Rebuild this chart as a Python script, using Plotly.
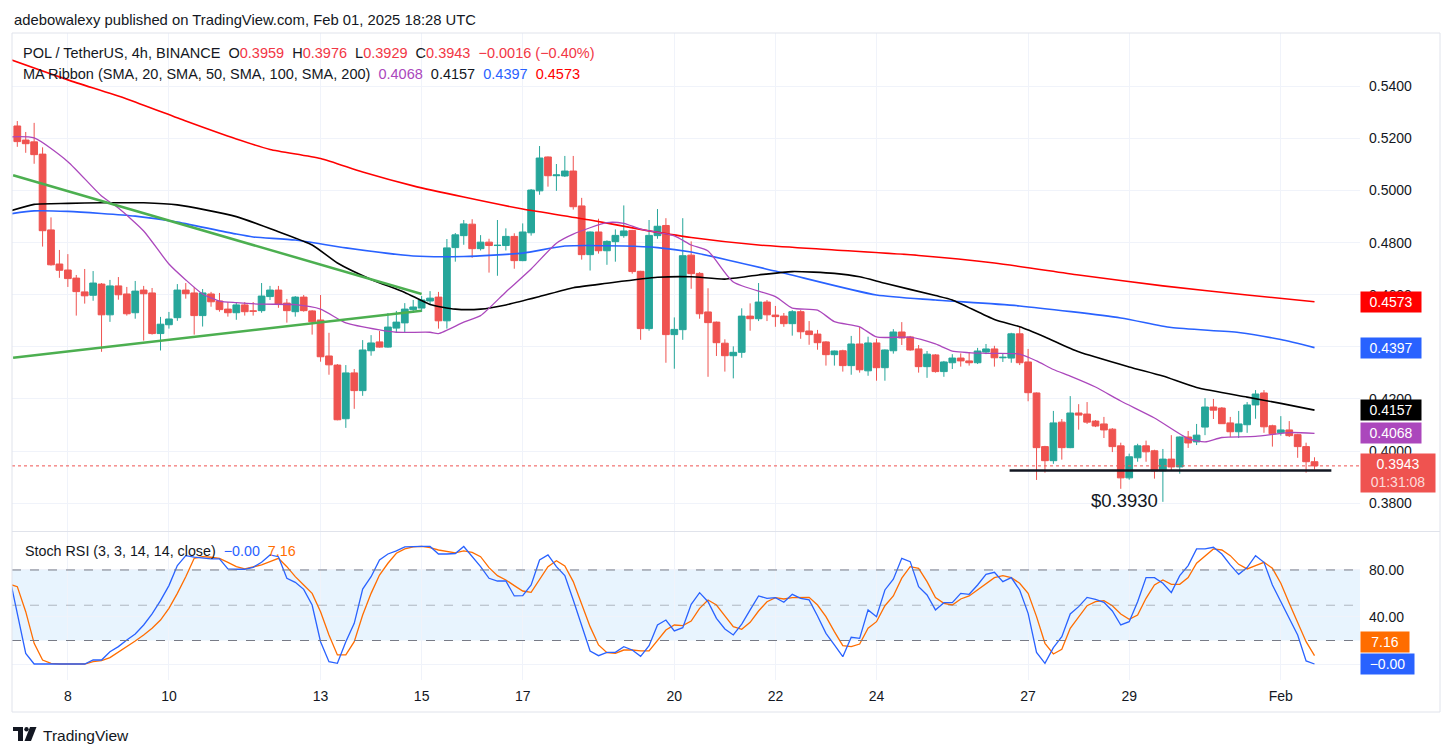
import pandas as pd
import plotly.graph_objects as go

# ---------------- data ----------------
BASE_TIME = pd.Timestamp("2025-01-07 00:00")   # first visible 4h candle
BAR_HOURS = 4

open_ = [0.5248,0.5194,0.5187,0.5140,0.4849,0.4718,0.4695,0.4664,0.4611,0.4598,
0.4641,0.4523,0.4634,0.4603,0.4531,0.4618,0.4607,0.4451,0.4485,0.4512,
0.4618,0.4607,0.4520,0.4603,0.4576,0.4545,0.4531,0.4561,0.4538,0.4539,
0.4593,0.4618,0.4568,0.4535,0.4591,0.4538,0.4503,0.4365,0.4330,0.4124,
0.4300,0.4232,0.4385,0.4419,0.4399,0.4472,0.4492,0.4543,0.4549,0.4576,
0.4591,0.4500,0.4781,0.4827,0.4871,0.4777,0.4802,0.4789,0.4789,0.4824,
0.4731,0.4838,0.4999,0.5129,0.5057,0.5056,0.5075,0.4941,0.4754,0.4841,
0.4769,0.4804,0.4827,0.4847,0.4690,0.4470,0.4827,0.4866,0.4447,0.4466,
0.4752,0.4682,0.4534,0.4495,0.4414,0.4366,0.4379,0.4518,0.4508,0.4572,
0.4522,0.4518,0.4489,0.4535,0.4461,0.4449,0.4419,0.4370,0.4385,0.4328,
0.4411,0.4308,0.4415,0.4320,0.4385,0.4457,0.4438,0.4392,0.4324,0.4369,
0.4305,0.4339,0.4357,0.4346,0.4339,0.4380,0.4392,0.4358,0.4357,0.4450,
0.4342,0.4223,0.4017,0.3963,0.4111,0.4013,0.4146,0.4142,0.4115,0.4104,
0.4084,0.4020,0.3897,0.3974,0.4020,0.4001,0.3924,0.3969,0.3939,0.4054,
0.4035,0.4092,0.4169,0.4165,0.4108,0.4074,0.4101,0.4177,0.4223,0.4097,
0.4070,0.4081,0.4063,0.4017,0.3959]

high_ = [0.5267,0.5225,0.5260,0.5166,0.4897,0.4772,0.4756,0.4676,0.4699,0.4691,
0.4645,0.4657,0.4668,0.4630,0.4653,0.4634,0.4626,0.4515,0.4534,0.4641,
0.4645,0.4630,0.4622,0.4611,0.4607,0.4572,0.4572,0.4572,0.4572,0.4645,
0.4634,0.4634,0.4584,0.4595,0.4599,0.4541,0.4599,0.4454,0.4334,0.4330,
0.4315,0.4426,0.4445,0.4461,0.4530,0.4538,0.4568,0.4580,0.4595,0.4614,
0.4611,0.4814,0.4837,0.4887,0.4890,0.4829,0.4815,0.4887,0.4855,0.4836,
0.4874,0.5006,0.5171,0.5131,0.5102,0.5133,0.5133,0.4972,0.4843,0.4892,
0.4809,0.4851,0.4943,0.4849,0.4692,0.4887,0.4929,0.4894,0.4513,0.4894,
0.4805,0.4687,0.4625,0.4497,0.4429,0.4402,0.4548,0.4567,0.4645,0.4580,
0.4557,0.4530,0.4541,0.4541,0.4499,0.4465,0.4422,0.4386,0.4389,0.4442,
0.4476,0.4439,0.4431,0.4390,0.4468,0.4495,0.4442,0.4407,0.4384,0.4372,
0.4346,0.4372,0.4375,0.4380,0.4396,0.4411,0.4404,0.4375,0.4454,0.4477,
0.4392,0.4225,0.4020,0.4154,0.4123,0.4211,0.4180,0.4188,0.4119,0.4131,
0.4088,0.4032,0.3990,0.4028,0.4040,0.4005,0.4008,0.4061,0.4056,0.4077,
0.4104,0.4203,0.4200,0.4169,0.4131,0.4154,0.4188,0.4234,0.4234,0.4101,
0.4134,0.4115,0.4066,0.4032,0.3976]

low_ = [0.5168,0.5145,0.5103,0.4785,0.4712,0.4665,0.4630,0.4520,0.4566,0.4577,
0.4381,0.4496,0.4581,0.4520,0.4508,0.4424,0.4447,0.4386,0.4470,0.4500,
0.4585,0.4447,0.4478,0.4554,0.4535,0.4516,0.4504,0.4520,0.4520,0.4531,
0.4580,0.4550,0.4493,0.4516,0.4535,0.4447,0.4343,0.4293,0.4118,0.4089,
0.4162,0.4212,0.4366,0.4397,0.4397,0.4457,0.4457,0.4530,0.4534,0.4564,
0.4470,0.4470,0.4727,0.4792,0.4742,0.4770,0.4685,0.4673,0.4770,0.4700,
0.4729,0.4827,0.4984,0.5015,0.4999,0.5052,0.4927,0.4735,0.4693,0.4758,
0.4715,0.4727,0.4819,0.4681,0.4427,0.4462,0.4815,0.4339,0.4316,0.4427,
0.4623,0.4508,0.4285,0.4365,0.4305,0.4279,0.4358,0.4462,0.4499,0.4499,
0.4477,0.4477,0.4443,0.4431,0.4408,0.4389,0.4328,0.4328,0.4305,0.4293,
0.4301,0.4289,0.4270,0.4270,0.4374,0.4407,0.4385,0.4301,0.4281,0.4301,
0.4285,0.4315,0.4324,0.4328,0.4334,0.4372,0.4324,0.4342,0.4339,0.4330,
0.4191,0.3889,0.3917,0.3951,0.3967,0.4011,0.4082,0.4104,0.4092,0.4050,
0.3996,0.3855,0.3890,0.3959,0.3959,0.3894,0.3805,0.3927,0.3913,0.4012,
0.4023,0.4061,0.4123,0.4104,0.4054,0.4050,0.4070,0.4124,0.4070,0.4017,
0.4059,0.4054,0.3974,0.3917,0.3929]

close_ = [0.5188,0.5180,0.5138,0.4846,0.4715,0.4694,0.4662,0.4612,0.4596,0.4645,
0.4523,0.4634,0.4600,0.4527,0.4614,0.4604,0.4451,0.4487,0.4507,0.4618,
0.4604,0.4520,0.4607,0.4573,0.4543,0.4531,0.4561,0.4535,0.4537,0.4595,
0.4618,0.4564,0.4539,0.4591,0.4539,0.4496,0.4362,0.4331,0.4120,0.4300,
0.4232,0.4388,0.4415,0.4399,0.4476,0.4495,0.4545,0.4553,0.4580,0.4587,
0.4500,0.4780,0.4830,0.4872,0.4777,0.4802,0.4789,0.4790,0.4824,0.4731,
0.4841,0.5002,0.5125,0.5057,0.5060,0.5075,0.4938,0.4754,0.4841,0.4769,
0.4805,0.4828,0.4845,0.4689,0.4470,0.4828,0.4863,0.4447,0.4467,0.4750,
0.4681,0.4527,0.4493,0.4416,0.4366,0.4379,0.4518,0.4508,0.4572,0.4523,
0.4516,0.4489,0.4535,0.4458,0.4447,0.4416,0.4370,0.4384,0.4328,0.4411,
0.4312,0.4415,0.4320,0.4388,0.4457,0.4434,0.4388,0.4324,0.4372,0.4305,
0.4342,0.4357,0.4346,0.4339,0.4384,0.4392,0.4358,0.4360,0.4450,0.4339,
0.4224,0.4013,0.3963,0.4108,0.4013,0.4146,0.4138,0.4111,0.4096,0.4081,
0.4017,0.3897,0.3978,0.4020,0.3997,0.3924,0.3969,0.3939,0.4054,0.4031,
0.4061,0.4169,0.4157,0.4105,0.4074,0.4104,0.4177,0.4219,0.4093,0.4066,
0.4081,0.4059,0.4017,0.3959,0.3943]

sma20_idx = [-1,2,6,10,12,15,18,20,22,24,26,29,33,36,39,43,45,49,50,53,
             55,58,61,64,66,70,72,74,78,80,82,85,90,92,95,97,100,102,106,109,
             111,115,119,121,123,125,128,131,135,139,141,143,147,151,154]
sma20_val = [0.5206,0.5202,0.5111,0.4979,0.4933,0.4845,0.4718,0.4657,0.4603,0.4576,
             0.4570,0.4564,0.4562,0.4545,0.4492,0.4465,0.4456,0.4456,0.4451,0.4495,
             0.4520,0.4611,0.4699,0.4798,0.4833,0.4877,0.4874,0.4852,0.4826,0.4791,
             0.4768,0.4649,0.4593,0.4549,0.4541,0.4497,0.4477,0.4438,0.4437,0.4411,
             0.4384,0.4375,0.4372,0.4346,0.4313,0.4288,0.4246,0.4192,0.4127,0.4048,
             0.4035,0.4052,0.4056,0.4071,0.4068]
sma50_idx = [-1,2,6,10,15,19,26,31,35,38,42,46,49,52,55,58,62,66,70,76,
             80,84,88,92,97,100,103,109,111,116,119,122,126,132,136,140,146,150,154]
sma50_val = [0.4920,0.4947,0.4951,0.4953,0.4953,0.4945,0.4900,0.4842,0.4791,0.4722,
             0.4659,0.4609,0.4563,0.4545,0.4545,0.4561,0.4593,0.4627,0.4644,0.4667,
             0.4669,0.4660,0.4676,0.4689,0.4682,0.4669,0.4644,0.4597,0.4580,0.4505,
             0.4477,0.4438,0.4381,0.4323,0.4288,0.4244,0.4207,0.4183,0.4157]
sma100_idx = [-1,2,6,14,19,26,28,33,39,47,53,60,65,72,76,80,90,102,109,119,
              131,137,145,150,154]
sma100_val = [0.4910,0.4922,0.4920,0.4902,0.4879,0.4833,0.4822,0.4810,0.4780,0.4749,
              0.4747,0.4760,0.4787,0.4787,0.4781,0.4764,0.4691,0.4599,0.4580,0.4557,
              0.4511,0.4474,0.4455,0.4428,0.4397]
sma200_idx = [-1,6,13,20,26,30,36,41,47,53,60,68,74,80,88,97,107,116,126,136,146,154]
sma200_val = [0.5505,0.5425,0.5352,0.5267,0.5198,0.5158,0.5123,0.5071,0.5018,0.4975,
              0.4929,0.4887,0.4851,0.4820,0.4791,0.4772,0.4751,0.4722,0.4676,0.4634,
              0.4599,0.4573]

# hand-drawn trend lines and support level
trend_down_idx = [-0.5, 48.0]
trend_down_val = [0.5059, 0.4603]
trend_up_idx = [-0.5, 48.0]
trend_up_val = [0.4358, 0.4539]
support_idx = [117.8, 156.0]
support_val = [0.3925, 0.3925]
support_label = "$0.3930"

# Stoch RSI (3, 3, 14, 14) values, starting at bar index -1
stoch_first_idx = -1
stoch_k = [77,43,9,0,0,0,0,0,0,0,
3.4,3.4,10.5,14.8,20.4,25.5,33.2,42.6,53.9,66.7,
83.7,92.2,91,90.2,89.4,89.4,80.9,80.6,80.6,82.3,
86.5,92.8,91.3,72.9,69.5,63.5,50.2,19,2,0.6,
19,34.6,63.8,74.3,88.5,93.6,96.2,99.6,100,100,
100,93.6,93.6,94,100,91.3,82.8,72.9,70.6,70.6,
57.9,58.2,67.2,88.5,92.8,82.8,75.2,54.5,31.8,11.1,
7.1,9.9,9.9,14.8,11.9,6.5,15.6,33.2,37.4,28.1,
30.9,50.8,60.7,53,38.9,29.8,24.7,34,46,57.9,
55.9,56.5,52.5,59.3,55.9,54.5,40.9,26.1,16.2,6.2,
22.7,21.8,46,40.3,63,72.1,89.9,87.1,65.8,58.7,
46,52.2,52.2,60.1,59.3,67.2,76.3,78,70.1,73.5,
63,43.1,9.9,0.6,13.9,23.3,42.6,48.8,56.7,55,
52.5,45.1,33.2,36,53,73.5,73.5,68.7,60.7,75.2,
83.7,97.9,97.9,99.3,93.6,84.3,76.3,82,92.2,86.5,
67.2,53,38.9,24.7,2.6,0]
stoch_d = [68,65.8,44.5,17.6,3.4,0.6,0,0,0,0,
2,2.8,5.4,9.9,14.8,19.6,24.7,30.4,37.4,47.4,
60.1,74.3,89.9,91.3,90.8,89.9,86.5,82.8,80.9,82.3,
84.3,87.1,89.9,82.8,74.3,67.2,60.1,44.5,24.7,7.7,
7.7,19,41.7,60.1,75.7,85.7,94.2,97.9,99.6,100,
99,97,95.6,94.6,96.2,95,91.3,82,75.2,71.5,
66.7,62.1,61,71.5,82.8,87.9,83.4,70.1,51.6,31.8,
16.2,9.6,9.1,11.9,11.9,11.1,11.1,19.6,28.9,33.2,
32.6,36.6,47.4,54.5,50.2,40.9,31.8,29.5,35.5,45.1,
53,56.5,55.3,56.5,56.5,56.7,50.2,40.3,27.5,15.6,
14.8,17,30.4,36,49.6,57.9,73,82.8,81.4,70.1,
56.5,51.6,50.2,55.3,57.9,63,68.7,73.5,75.2,73.5,
68.7,60.1,40.3,17.6,8.5,12.5,30.4,40.3,49.6,53,
53.9,49.6,42.6,38,41.7,55.9,67.2,71.5,67.8,67.8,
73.5,85.7,92.2,97.9,97,92.2,84.8,80.9,83.7,86.5,
81.4,68.7,51.6,35.5,19,7.16]

x_tick_dates = ["2025-01-08", "2025-01-10", "2025-01-13", "2025-01-15", "2025-01-17",
                "2025-01-20", "2025-01-22", "2025-01-24", "2025-01-27", "2025-01-29",
                "2025-02-01"]
x_tick_text = ["8", "10", "13", "15", "17", "20", "22", "24", "27", "29", "Feb"]
price_ticks = [0.38, 0.40, 0.42, 0.44, 0.46, 0.48, 0.50, 0.52, 0.54]
stoch_ticks = [0, 40, 80]
stoch_tick_text = ["", "40.00", "80.00"]
countdown = "01:31:08"

# ---------------- styling ----------------
W, H = 1453, 756
PL, PR, PT, PB = 12, 1360, 33, 680          # plot area in pixels
MAIN_BOTTOM_PX, STOCH_TOP_PX = 531, 532
UP, DN = "#26a69a", "#ef5350"
C20, C50, C100, C200 = "#ab47bc", "#000000", "#2962ff", "#ff0000"
KCOL, DCOL = "#2962ff", "#ff6d00"
GRID = "#f0f3fa"
TXT = "#131722"
FONT = "Liberation Sans, Arial, sans-serif"


def t(i):
    return BASE_TIME + pd.Timedelta(hours=BAR_HOURS * i)


def px2x(px):
    return (px - PL) / (PR - PL)


def px2y(py):
    return (PB - py) / (PB - PT)


dates = [t(i) for i in range(len(close_))]

fig = go.Figure()
fig.add_trace(go.Candlestick(
    x=dates, open=open_, high=high_, low=low_, close=close_,
    increasing=dict(line=dict(color=UP, width=1), fillcolor=UP),
    decreasing=dict(line=dict(color=DN, width=1), fillcolor=DN),
    whiskerwidth=0, xaxis="x", yaxis="y", showlegend=False, hoverinfo="skip"))

for idx, val, col, w in [(sma200_idx, sma200_val, C200, 1.6),
                         (sma100_idx, sma100_val, C100, 1.6),
                         (sma50_idx, sma50_val, C50, 1.6),
                         (sma20_idx, sma20_val, C20, 1.3)]:
    fig.add_trace(go.Scatter(x=[t(i) for i in idx], y=val, mode="lines",
                             line=dict(color=col, width=w, shape="spline", smoothing=0.6),
                             xaxis="x", yaxis="y", showlegend=False, hoverinfo="skip"))

for idx, val in [(trend_down_idx, trend_down_val), (trend_up_idx, trend_up_val)]:
    fig.add_trace(go.Scatter(x=[t(i) for i in idx], y=val, mode="lines",
                             line=dict(color="#4caf50", width=2.5),
                             xaxis="x", yaxis="y", showlegend=False, hoverinfo="skip"))

fig.add_trace(go.Scatter(x=[t(i) for i in support_idx], y=support_val, mode="lines",
                         line=dict(color="#131722", width=2.5),
                         xaxis="x", yaxis="y", showlegend=False, hoverinfo="skip"))

stoch_x = [t(stoch_first_idx + k) for k in range(len(stoch_k))]
fig.add_trace(go.Scatter(x=stoch_x, y=stoch_d, mode="lines", line=dict(color=DCOL, width=1.3),
                         xaxis="x2", yaxis="y2", showlegend=False, hoverinfo="skip"))
fig.add_trace(go.Scatter(x=stoch_x, y=stoch_k, mode="lines", line=dict(color=KCOL, width=1.3),
                         xaxis="x2", yaxis="y2", showlegend=False, hoverinfo="skip"))

xr = [t(-0.63), t(159.4)]
main_dom = [px2y(MAIN_BOTTOM_PX), 1]
stoch_dom = [0, px2y(STOCH_TOP_PX)]

fig.update_layout(
    width=W, height=H, margin=dict(l=PL, r=W - PR, t=PT, b=H - PB, pad=0),
    paper_bgcolor="white", plot_bgcolor="white", showlegend=False,
    boxgap=0.2, boxgroupgap=0,
    font=dict(family=FONT, size=14, color=TXT),
    xaxis=dict(domain=[0, 1], anchor="y", type="date", range=xr, tickvals=x_tick_dates,
               showticklabels=False, showgrid=True, gridcolor=GRID, zeroline=False,
               rangeslider=dict(visible=False), showline=False, ticks=""),
    yaxis=dict(domain=main_dom, anchor="x", side="right", range=[0.3693, 0.5605],
               tickvals=price_ticks, ticktext=[f"{v:.4f}" for v in price_ticks],
               showgrid=True, gridcolor=GRID, zeroline=False, ticks="",
               ticklabelstandoff=8, tickfont=dict(size=14, color=TXT, family=FONT)),
    xaxis2=dict(domain=[0, 1], anchor="y2", type="date", range=xr, matches="x",
                tickvals=x_tick_dates, ticktext=x_tick_text, showgrid=True, gridcolor=GRID,
                zeroline=False, ticks="", ticklabelstandoff=6,
                tickfont=dict(size=14, color=TXT, family=FONT)),
    yaxis2=dict(domain=stoch_dom, anchor="x2", side="right", range=[-13.6, 112.3],
                tickvals=stoch_ticks, ticktext=stoch_tick_text, showgrid=True, gridcolor=GRID,
                zeroline=False, ticks="", ticklabelstandoff=8,
                tickfont=dict(size=14, color=TXT, family=FONT)),
)

shapes = []
# stoch band and level lines
shapes.append(dict(type="rect", xref="x2 domain", yref="y2", x0=0, x1=1, y0=20, y1=80,
                   fillcolor="rgba(33,150,243,0.1)", line=dict(width=0), layer="below"))
for lvl, col in [(80, "#787b86"), (20, "#787b86"), (50, "rgba(120,123,134,0.5)")]:
    shapes.append(dict(type="line", xref="x2 domain", yref="y2", x0=0, x1=1, y0=lvl, y1=lvl,
                       line=dict(color=col, width=1, dash="dash")))
# current price dotted line
shapes.append(dict(type="line", xref="x domain", yref="y", x0=0, x1=1,
                   y0=close_[-1], y1=close_[-1], line=dict(color=DN, width=1, dash="dot")))
# frame and pane separator
FR = 1440
shapes.append(dict(type="rect", xref="paper", yref="paper", x0=px2x(12), x1=px2x(FR),
                   y0=px2y(712), y1=px2y(33), line=dict(color="#e0e3eb", width=1),
                   fillcolor="rgba(0,0,0,0)"))
shapes.append(dict(type="line", xref="paper", yref="paper", x0=px2x(12), x1=px2x(FR),
                   y0=px2y(531.5), y1=px2y(531.5), line=dict(color="#e0e3eb", width=1)))
# TradingView logo glyph
LOGO = TXT
shapes.append(dict(type="rect", xref="paper", yref="paper", x0=px2x(13), x1=px2x(23),
                   y0=px2y(731), y1=px2y(727), fillcolor=LOGO, line=dict(width=0)))
shapes.append(dict(type="rect", xref="paper", yref="paper", x0=px2x(18), x1=px2x(23),
                   y0=px2y(741), y1=px2y(727), fillcolor=LOGO, line=dict(width=0)))
shapes.append(dict(type="circle", xref="paper", yref="paper", x0=px2x(24.3), x1=px2x(28.7),
                   y0=px2y(731.4), y1=px2y(727), fillcolor=LOGO, line=dict(width=0)))
shapes.append(dict(type="path", xref="paper", yref="paper",
                   path=f"M {px2x(30)} {px2y(727)} L {px2x(36.5)} {px2y(727)} "
                        f"L {px2x(31)} {px2y(741)} L {px2x(24.5)} {px2y(741)} Z",
                   fillcolor=LOGO, line=dict(width=0)))
fig.update_layout(shapes=shapes)

NB = "\u00a0"
RED_TXT = "#f23645"


def sp(text, col):
    return f'<span style="color:{col}">{text}</span>'


anns = []


def add_text(px, py, text, size=14, color=TXT, xanchor="left"):
    anns.append(dict(xref="paper", yref="paper", x=px2x(px), y=px2y(py), text=text,
                     showarrow=False, xanchor=xanchor, yanchor="middle",
                     font=dict(size=size, color=color, family=FONT)))


add_text(12, 20, "adebowalexy published on TradingView.com, Feb 01, 2025 18:28 UTC", size=14.8)
line1 = ("POL / TetherUS, 4h, BINANCE" + NB * 2 + "O" + sp(f"{open_[-1]:.4f}", RED_TXT)
         + NB * 2 + "H" + sp(f"{high_[-1]:.4f}", RED_TXT)
         + NB * 2 + "L" + sp(f"{low_[-1]:.4f}", RED_TXT)
         + NB * 2 + "C" + sp(f"{close_[-1]:.4f}", RED_TXT)
         + NB * 2 + sp("\u22120.0016 (\u22120.40%)", RED_TXT))
add_text(21, 53, line1, size=14.5)
line2 = ("MA Ribbon (SMA, 20, SMA, 50, SMA, 100, SMA, 200)" + NB * 2
         + sp(f"{sma20_val[-1]:.4f}", C20) + NB * 2 + sp(f"{sma50_val[-1]:.4f}", TXT)
         + NB * 2 + sp(f"{sma100_val[-1]:.4f}", C100) + NB * 2 + sp(f"{sma200_val[-1]:.4f}", C200))
add_text(21, 74, line2, size=14.5)
line3 = ("Stoch RSI (3, 3, 14, 14, close)" + NB * 2 + sp("\u22120.00", KCOL) + NB * 2
         + sp(f"{stoch_d[-1]:.2f}", DCOL))
add_text(23, 551, line3, size=14.3)
add_text(1124, 500, support_label, size=18.5, xanchor="center")
add_text(41, 735, "TradingView", size=15.5)


def add_box(val, text, bg, yref="y", width=56, height=16, yshift=0, fcol="white"):
    anns.append(dict(xref="paper", yref=yref, x=1, y=val, text=text, showarrow=False,
                     xanchor="left", yanchor="middle", bgcolor=bg, borderpad=2,
                     width=width, height=height, align="center", yshift=yshift,
                     font=dict(size=14, color=fcol, family=FONT)))


add_box(sma200_val[-1], f"{sma200_val[-1]:.4f}", C200)
add_box(sma100_val[-1], f"{sma100_val[-1]:.4f}", C100)
add_box(sma50_val[-1], f"{sma50_val[-1]:.4f}", "#000000")
add_box(sma20_val[-1], f"{sma20_val[-1]:.4f}", C20)
add_box(close_[-1], f"{close_[-1]:.4f}<br><span style='color:rgba(255,255,255,0.8)'>{countdown}</span>",
        DN, width=70, height=34, yshift=-7)
add_box(stoch_d[-1], f"{stoch_d[-1]:.2f}", DCOL, yref="y2", width=44, height=16, yshift=14)
add_box(stoch_k[-1], "\u22120.00", KCOL, yref="y2", width=49, height=16)

fig.update_layout(annotations=anns)
fig.write_html("out.html")
